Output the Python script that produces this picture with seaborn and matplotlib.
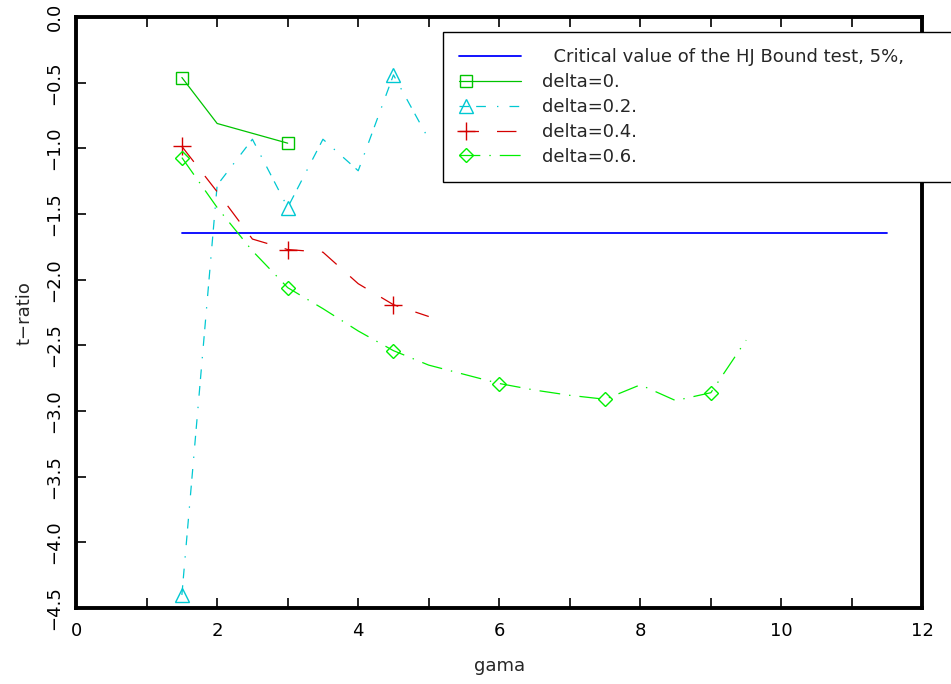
import numpy as np
import pandas as pd
import matplotlib
matplotlib.use("Agg")
import matplotlib.pyplot as plt
import seaborn as sns
from matplotlib.ticker import FuncFormatter, MultipleLocator
from matplotlib.legend_handler import HandlerLine2D

# --- DATA ---
gama = [1.5, 2.0, 2.5, 3.0, 3.5, 4.0, 4.5, 5.0, 5.5, 6.0, 6.5, 7.0, 7.5, 8.0, 8.5, 9.0, 9.5]

crit_x = [1.5, 11.5]
crit_value = [-1.645, -1.645]

delta_0 = [-0.46, -0.81, -0.885, -0.96]
delta_02 = [-4.40, -1.28, -0.93, -1.45, -0.93, -1.17, -0.44, -0.93]
delta_04 = [-0.985, -1.33, -1.69, -1.77, -1.79, -2.03, -2.19, -2.28]
delta_06 = [-1.07, -1.45, -1.78, -2.06, -2.22, -2.39, -2.54, -2.65, -2.72,
            -2.79, -2.84, -2.88, -2.91, -2.80, -2.92, -2.86, -2.46]

# trailing spaces: in the original the legend box runs off the right edge
labels = ["  Critical value of the HJ Bound test, 5%,        ",
          "delta=0.", "delta=0.2.", "delta=0.4.", "delta=0.6."]

x_ticks = [0, 2, 4, 6, 8, 10, 12]
y_ticks = [0.0, -0.5, -1.0, -1.5, -2.0, -2.5, -3.0, -3.5, -4.0, -4.5]


class MarkerLeftHandler(HandlerLine2D):
    # legend sample with the marker near the left end of the line
    def create_artists(self, legend, orig_handle, xdescent, ydescent,
                       width, height, fontsize, trans):
        artists = super().create_artists(legend, orig_handle, xdescent, ydescent,
                                         width, height, fontsize, trans)
        x0 = -xdescent
        xd = np.array([x0, x0 + 0.1 * width, x0 + width])
        yd = np.full(3, (height - ydescent) / 2)
        for art in artists:
            art.set_data(xd, yd)
            art.set_markevery([1])
        return artists


def main():
    sns.set_theme(style="white")
    plt.rcParams["font.family"] = ["DejaVu Sans"]
    plt.rcParams["lines.scale_dashes"] = False

    fig = plt.figure(figsize=(9.51, 6.84), dpi=100)
    ax = fig.add_axes([0.080, 0.111, 0.890, 0.864])

    lw = 0.9
    series = [
        (crit_x, crit_value, "#0000ff", "-", None, 0),
        (gama[:len(delta_0)], delta_0, "#00c400", "-", "s", 9),
        (gama[:len(delta_02)], delta_02, "#00c8d2", (0, (7, 5, 7, 8, 1, 8)), "^", 10),
        (gama[:len(delta_04)], delta_04, "#d40000", (0, (14, 13)), "+", 13),
        (gama, delta_06, "#00f000", (0, (15, 6.5, 1, 6.5)), "D", 7),
    ]

    handles = []
    for (xs, ys, color, ls, marker, ms), label in zip(series, labels):
        kws = dict(color=color, linestyle=ls, linewidth=lw, label=label)
        if marker is None:
            kws["linewidth"] = 1.3
        else:
            kws.update(marker=marker, markersize=ms, markevery=3,
                       markerfacecolor="none", markeredgecolor=color,
                       markeredgewidth=1.0)
        sns.lineplot(x=xs, y=ys, ax=ax, legend=False, **kws)
        handles.append(ax.get_lines()[-1])

    # --- axes formatting ---
    ax.set_xlim(0, 12)
    ax.set_ylim(-4.5, 0)
    ax.set_xticks(x_ticks)
    ax.xaxis.set_minor_locator(MultipleLocator(1))
    ax.set_yticks(y_ticks)

    def ylab(v, pos):
        if abs(v) < 1e-9:
            return "0.0"
        return f"{v:.1f}".replace("-", "\u2212")

    ax.yaxis.set_major_formatter(FuncFormatter(ylab))

    ax.tick_params(axis="x", which="both", direction="in", top=True, bottom=True,
                   length=7, width=1.2, labelsize=13, pad=10, colors="black")
    ax.tick_params(axis="y", which="both", direction="in", left=True, right=False,
                   length=7, width=1.2, labelsize=13, pad=9, colors="black")
    for lab in ax.get_yticklabels():
        lab.set_rotation(90)
        lab.set_va("center")

    for side in ["left", "right", "top", "bottom"]:
        ax.spines[side].set_visible(True)
        ax.spines[side].set_color("black")
        ax.spines[side].set_linewidth(2.8)

    ax.set_xlabel("gama", fontsize=13, labelpad=12)
    ax.set_ylabel("t\u2212ratio", fontsize=13, labelpad=9)
    ax.grid(False)

    handler = MarkerLeftHandler()
    leg = ax.legend(handles=handles, labels=labels, loc="upper left",
                    bbox_to_anchor=(0.423, 0.99), fontsize=13, frameon=True,
                    fancybox=False, shadow=False, framealpha=1,
                    edgecolor="black", handlelength=3.4, handletextpad=1.2,
                    labelspacing=0.38, borderpad=0.9,
                    handler_map={h: handler for h in handles[1:]})
    leg.get_frame().set_linewidth(1.0)

    plt.savefig("out.png", dpi=100)


if __name__ == "__main__":
    main()
